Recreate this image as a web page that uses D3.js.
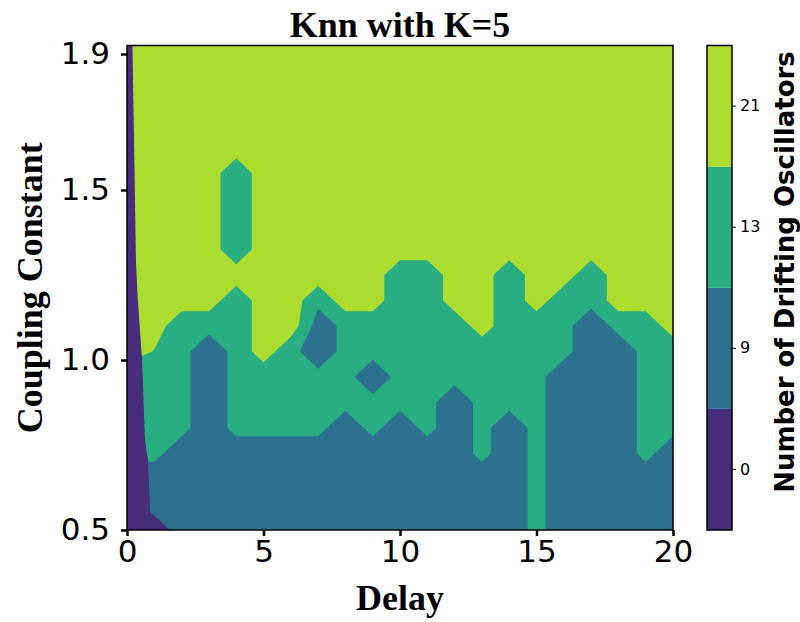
<!DOCTYPE html>
<html>
<head>
<meta charset="utf-8">
<title>Knn with K=5</title>
<script src="https://cdn.jsdelivr.net/npm/d3@7"></script>
<style>
  body { margin: 0; background: #fff; }
</style>
</head>
<body>
<div id="chart"></div>
<script>
// grid axes (delay along x, coupling constant along y, top row first)
const delays = [0, 1, 2, 3, 4, 5, 6, 7, 8, 9, 10, 11, 12, 13, 14, 15, 16, 17, 18, 19, 20];
const couplings = [1.925, 1.85, 1.775, 1.7, 1.625, 1.55, 1.475, 1.4, 1.325, 1.25,
                   1.175, 1.1, 1.025, 0.95, 0.875, 0.8, 0.725, 0.65, 0.575, 0.5];

// predicted number of drifting oscillators, one row per coupling value
const drifting = [
  [21,21,21,21,21,21,21,21,21,21,21,21,21,21,21,21,21,21,21,21,21],
  [21,21,21,21,21,21,21,21,21,21,21,21,21,21,21,21,21,21,21,21,21],
  [21,21,21,21,21,21,21,21,21,21,21,21,21,21,21,21,21,21,21,21,21],
  [21,21,21,21,21,21,21,21,21,21,21,21,21,21,21,21,21,21,21,21,21],
  [21,21,21,21,21,21,21,21,21,21,21,21,21,21,21,21,21,21,21,21,21],
  [21,21,21,21,13,21,21,21,21,21,21,21,21,21,21,21,21,21,21,21,21],
  [21,21,21,21,13,21,21,21,21,21,21,21,21,21,21,21,21,21,21,21,21],
  [21,21,21,21,13,21,21,21,21,21,21,21,21,21,21,21,21,21,21,21,21],
  [21,21,21,21,13,21,21,21,21,21,21,21,21,21,21,21,21,21,21,21,21],
  [21,21,21,21,21,21,21,21,21,21,13,13,21,21,13,21,21,13,21,21,21],
  [21,21,21,21,13,21,21,13,21,21,13,13,21,21,13,21,13,13,21,21,21],
  [21,21,13,13,13,21,21, 9,13,13,13,13,13,21,13,13,13, 9,13,13,21],
  [21,17.3,13,9,13,21,13, 9,13,13,13,13,13,13,13,13,13, 9, 9,13,13],
  [13,13,13, 9,13,13,13,13,13, 9,13,13,13,13,13,13, 9, 9, 9,13,13],
  [13,13,13, 9,13,13,13,13,13,13,13,13, 9,13,13,13, 9, 9, 9,13,13],
  [13,13,13, 9,13,13,13,13, 9,13, 9,13, 9,13, 9,13, 9, 9, 9,13,13],
  [13,13, 9, 9, 9, 9, 9, 9, 9, 9, 9, 9, 9,13, 9,13, 9, 9, 9,13, 9],
  [ 9, 9, 9, 9, 9, 9, 9, 9, 9, 9, 9, 9, 9, 9, 9,13, 9, 9, 9, 9, 9],
  [ 0, 9, 9, 9, 9, 9, 9, 9, 9, 9, 9, 9, 9, 9, 9,13, 9, 9, 9, 9, 9],
  [ 0, 0, 9, 9, 9, 9, 9, 9, 9, 9, 9, 9, 9, 9, 9,13, 9, 9, 9, 9, 9]
];

// contour levels between the classes, and the class labels on the colorbar
const levels = [5.1, 11.7, 17.6];
const bandLabels = [0, 9, 13, 21];

// right edge of the zero-drift strip at small delay
const zeroEdgeCoupling = [1.925, 1.285, 1.175, 1.0, 0.765, 0.705, 0.56, 0.5];
const zeroEdgeDelay = [0.2, 0.33, 0.4, 0.55, 0.66, 0.77, 0.84, 0.84];

const W = 800, H = 622;
const plotL = 127, plotR = 673, plotT = 45.5, plotB = 530;

const colors = bandLabels.map((d, i) => d3.interpolateViridis((i + 0.5) / bandLabels.length));

const svg = d3.select("#chart").append("svg")
    .attr("width", W)
    .attr("height", H);

const x = d3.scaleLinear().domain([0, 20]).range([plotL, plotR]);
const y = d3.scaleLinear().domain([0.5, 1.925]).range([plotB, plotT]);

svg.append("clipPath").attr("id", "plotclip")
  .append("rect")
    .attr("x", plotL).attr("y", plotT)
    .attr("width", plotR - plotL).attr("height", plotB - plotT);

const plot = svg.append("g").attr("clip-path", "url(#plotclip)");

// lowest band as background
plot.append("rect")
    .attr("x", plotL).attr("y", plotT)
    .attr("width", plotR - plotL).attr("height", plotB - plotT)
    .attr("fill", colors[0]);

// grid coordinate from d3.contours -> data value along an axis array
function gridToData(u, arr) {
  const t = Math.max(0, Math.min(arr.length - 1, u - 0.5));
  const i = Math.min(arr.length - 2, Math.floor(t));
  return arr[i] + (arr[i + 1] - arr[i]) * (t - i);
}

const n = delays.length, m = couplings.length;
const contours = d3.contours()
    .size([n, m])
    .thresholds(levels)(drifting.flat());

const path = d3.geoPath(d3.geoTransform({
  point: function(px, py) {
    this.stream.point(x(gridToData(px, delays)), y(gridToData(py, couplings)));
  }
}));

plot.selectAll("path.band")
  .data(contours)
  .join("path")
    .attr("class", "band")
    .attr("d", path)
    .attr("fill", (d, i) => colors[i + 1]);

// zero-drift strip
const zeroPts = zeroEdgeCoupling.map((c, i) => ({c: c, d: zeroEdgeDelay[i]}));
plot.append("path")
    .datum(zeroPts)
    .attr("fill", colors[0])
    .attr("d", d3.area()
      .y(d => y(d.c))
      .x0(x(0))
      .x1(d => x(d.d)));

// frame
svg.append("rect")
    .attr("x", plotL).attr("y", plotT)
    .attr("width", plotR - plotL).attr("height", plotB - plotT)
    .attr("fill", "none")
    .attr("stroke", "#000")
    .attr("stroke-width", 1.5);

// axes
const xAxis = svg.append("g")
    .attr("transform", `translate(0,${plotB})`)
    .call(d3.axisBottom(x).tickValues([0, 5, 10, 15, 20]).tickSize(6).tickPadding(4));
const yAxis = svg.append("g")
    .attr("transform", `translate(${plotL},0)`)
    .call(d3.axisLeft(y).tickValues([0.5, 1.0, 1.5, 1.9]).tickFormat(d3.format(".1f")).tickSize(6).tickPadding(11));

[xAxis, yAxis].forEach(g => {
  g.select(".domain").remove();
  g.selectAll(".tick line").attr("stroke", "#000").attr("stroke-width", 2.5);
  g.selectAll(".tick text")
    .attr("fill", "#000")
    .style("font-family", "'DejaVu Sans', sans-serif")
    .style("font-size", "31px");
});

// titles
svg.append("text")
    .attr("x", (plotL + plotR) / 2).attr("y", 37)
    .attr("text-anchor", "middle")
    .style("font-family", "'Liberation Serif', 'Times New Roman', serif")
    .style("font-weight", "bold")
    .style("font-size", "36px")
    .text("Knn with K=5");

svg.append("text")
    .attr("x", (plotL + plotR) / 2).attr("y", 610)
    .attr("text-anchor", "middle")
    .style("font-family", "'Liberation Serif', 'Times New Roman', serif")
    .style("font-weight", "bold")
    .style("font-size", "36px")
    .text("Delay");

svg.append("text")
    .attr("transform", `translate(42,${(plotT + plotB) / 2}) rotate(-90)`)
    .attr("text-anchor", "middle")
    .style("font-family", "'Liberation Serif', 'Times New Roman', serif")
    .style("font-weight", "bold")
    .style("font-size", "36px")
    .text("Coupling Constant");

// colorbar
const cbLeft = 707, cbRight = 732;
const cb = d3.scaleBand().domain(bandLabels).range([plotB, plotT]);

svg.append("g").selectAll("rect")
  .data(bandLabels)
  .join("rect")
    .attr("x", cbLeft)
    .attr("y", d => cb(d))
    .attr("width", cbRight - cbLeft)
    .attr("height", cb.bandwidth())
    .attr("fill", (d, i) => colors[i]);

svg.append("rect")
    .attr("x", cbLeft).attr("y", plotT)
    .attr("width", cbRight - cbLeft).attr("height", plotB - plotT)
    .attr("fill", "none")
    .attr("stroke", "#000")
    .attr("stroke-width", 1.5);

const cbAxis = svg.append("g")
    .attr("transform", `translate(${cbRight},0)`)
    .call(d3.axisRight(cb).tickSize(4).tickPadding(4));
cbAxis.select(".domain").remove();
cbAxis.selectAll(".tick line").attr("stroke", "#000").attr("stroke-width", 1);
cbAxis.selectAll(".tick text")
    .attr("fill", "#000")
    .style("font-family", "'DejaVu Sans', sans-serif")
    .style("font-size", "16px");

svg.append("text")
    .attr("transform", `translate(794,272) rotate(-90)`)
    .attr("text-anchor", "middle")
    .style("font-family", "'DejaVu Sans', sans-serif")
    .style("font-weight", "bold")
    .style("font-size", "26px")
    .text("Number of Drifting Oscillators");
</script>
</body>
</html>
